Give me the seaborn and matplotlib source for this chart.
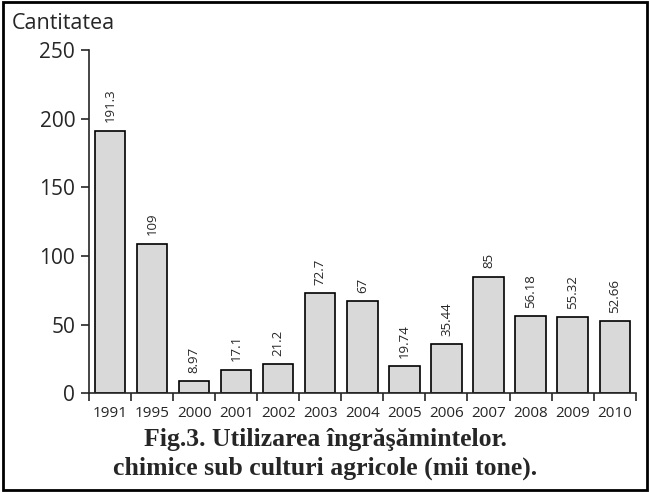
import numpy as np
import pandas as pd
import matplotlib.pyplot as plt
import seaborn as sns
from matplotlib.patches import Rectangle

# Data
years = ['1991', '1995', '2000', '2001', '2002', '2003', '2004',
         '2005', '2006', '2007', '2008', '2009', '2010']
values = [191.3, 109, 8.97, 17.1, 21.2, 72.7, 67, 19.74, 35.44, 85, 56.18, 55.32, 52.66]
labels = ['191.3', '109', '8.97', '17.1', '21.2', '72.7', '67',
          '19.74', '35.44', '85', '56.18', '55.32', '52.66']

df = pd.DataFrame({'year': years, 'value': values})

sns.set_style('ticks')
plt.rcParams['font.family'] = ['Open Sans', 'DejaVu Sans']

fig = plt.figure(figsize=(6.5, 4.92), dpi=100)
ax = fig.add_axes([0.137, 0.201, 0.841, 0.697])

sns.barplot(data=df, x='year', y='value', color='#d9d9d9', edgecolor='black',
            linewidth=1.2, width=0.72, saturation=1, ax=ax)

# value labels above bars
for i, (v, lab) in enumerate(zip(values, labels)):
    ax.text(i, v + 6, lab, rotation=90, ha='center', va='bottom', fontsize=9.5)

ax.set_xlim(-0.5, len(years) - 0.5)
ax.set_ylim(0, 250)
ax.set_yticks([0, 50, 100, 150, 200, 250])
ax.tick_params(axis='y', labelsize=15, length=6, width=1.2, pad=4)

# tick marks between bars, labels under bars
ax.set_xticks(np.arange(-0.5, len(years)), minor=False)
ax.set_xticklabels([])
ax.set_xticks(np.arange(len(years)), minor=True)
ax.set_xticklabels(years, minor=True, fontsize=11)
ax.tick_params(axis='x', which='major', length=6, width=1.2)
ax.tick_params(axis='x', which='minor', length=0, pad=9)

ax.set_xlabel('')
ax.set_ylabel('')
sns.despine(ax=ax)
for s in ['left', 'bottom']:
    ax.spines[s].set_linewidth(1.2)

fig.text(0.018, 0.93, 'Cantitatea', fontsize=15.5, ha='left', va='bottom')
fig.text(0.5, 0.077, 'Fig.3. Utilizarea îngrăşămintelor.\nchimice sub culturi agricole (mii tone).',
         fontsize=18.5, fontweight='bold', ha='center', va='center',
         family=['Liberation Serif', 'DejaVu Serif'], linespacing=1.3)

# frame around the whole figure
fig.patches.append(Rectangle((0.004, 0.004), 0.992, 0.992, transform=fig.transFigure,
                             fill=False, edgecolor='black', linewidth=2))

plt.savefig('out.png', dpi=100)
